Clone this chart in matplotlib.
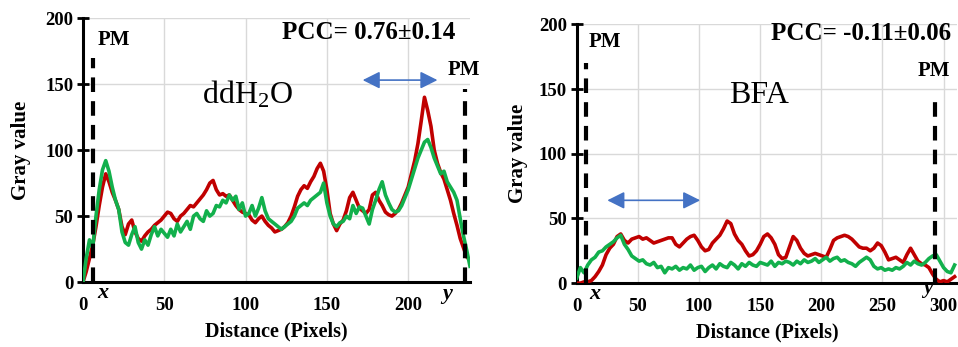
import numpy as np
import matplotlib
matplotlib.use("Agg")
import matplotlib.pyplot as plt

plt.rcParams['font.family'] = ['Liberation Serif', 'DejaVu Serif']
plt.rcParams['mathtext.fontset'] = 'custom'
plt.rcParams['mathtext.rm'] = 'Liberation Serif'
plt.rcParams['mathtext.it'] = 'Liberation Serif:italic'

# ---------------- data: ddH2O panel (step 2 px) ----------------
left_step = 2
left_red = [0, 8, 18, 28, 42, 58, 72, 82, 76, 68, 62, 55, 42, 36, 44, 47, 38, 33, 31, 35,
            38, 40, 43, 45, 47, 50, 53, 52, 48, 46, 50, 52, 55, 58, 57, 60, 63, 66, 70, 75,
            77, 70, 66, 67, 65, 66, 62, 58, 55, 53, 52, 51, 47, 45, 48, 50, 46, 43, 41, 38,
            39, 40, 42, 45, 50, 57, 65, 70, 73, 71, 76, 80, 86, 90, 84, 70, 52, 44, 39, 44,
            47, 54, 64, 68, 62, 56, 54, 52, 55, 66, 68, 62, 58, 53, 51, 50, 52, 55, 60, 66,
            72, 82, 92, 105, 122, 140, 130, 118, 100, 90, 83, 78, 70, 62, 52, 43, 33, 26, 19, 17]
left_green = [0, 18, 32, 26, 50, 70, 85, 92, 84, 72, 62, 55, 38, 30, 28, 36, 42, 30, 25, 32,
              28, 36, 42, 35, 40, 37, 34, 40, 35, 44, 38, 42, 46, 40, 50, 52, 48, 46, 54, 50,
              52, 58, 57, 62, 60, 66, 62, 65, 55, 60, 50, 52, 58, 50, 56, 64, 54, 48, 46, 44,
              42, 40, 42, 44, 46, 50, 56, 58, 60, 58, 62, 64, 66, 68, 75, 60, 50, 44, 42, 45,
              46, 50, 48, 58, 52, 57, 56, 50, 44, 55, 62, 70, 76, 66, 60, 55, 53, 54, 58, 64,
              70, 78, 86, 94, 100, 106, 108, 102, 94, 88, 82, 84, 76, 72, 68, 62, 48, 35, 24, 12]
left_x = np.arange(len(left_red)) * left_step

# ---------------- data: BFA panel (step 3 px) ----------------
right_step = 3
right_red = [0, 0, 1, 1, 2, 5, 9, 14, 22, 27, 30, 36, 38, 33, 31, 34, 35, 36, 34, 35,
             33, 31, 32, 33, 34, 35, 35, 30, 28, 31, 34, 36, 37, 33, 28, 25, 26, 31, 34, 37,
             42, 48, 46, 38, 33, 30, 25, 21, 22, 25, 30, 36, 38, 35, 30, 22, 19, 20, 28, 36,
             33, 27, 23, 21, 22, 23, 22, 21, 20, 26, 33, 35, 36, 37, 36, 34, 31, 28, 27, 27,
             25, 27, 31, 29, 24, 18, 19, 20, 18, 16, 22, 27, 22, 17, 15, 14, 12, 7, 3, 1,
             2, 1, 3, 5]
right_green = [4, 12, 8, 14, 18, 20, 24, 25, 28, 30, 32, 35, 37, 30, 26, 21, 19, 17, 18, 15,
               14, 16, 12, 13, 8, 12, 11, 13, 10, 12, 11, 14, 10, 12, 13, 9, 12, 14, 11, 15,
               13, 12, 16, 14, 11, 15, 13, 16, 14, 13, 16, 15, 14, 17, 13, 16, 15, 17, 16, 14,
               17, 15, 18, 16, 17, 19, 16, 18, 20, 17, 19, 20, 17, 18, 16, 15, 13, 16, 18, 20,
               18, 13, 11, 12, 10, 11, 10, 12, 11, 13, 16, 14, 17, 15, 14, 16, 19, 21, 22, 17,
               12, 9, 8, 14]
right_x = np.arange(len(right_red)) * right_step

x_ticks_left = [0, 50, 100, 150, 200]
x_ticks_right = [0, 50, 100, 150, 200, 250, 300]
y_ticks = [0, 50, 100, 150, 200]

RED = '#C00000'
GREEN = '#12B04C'
BLUE = '#4472C4'

fig = plt.figure(figsize=(9.58, 3.47), dpi=100)
axL = fig.add_axes([0.0866, 0.187, 0.404, 0.761])
axR = fig.add_axes([0.602, 0.184, 0.397, 0.746])


def style(ax, xmax, xticks, ylabelpad):
    ax.set_xlim(0, xmax)
    ax.set_ylim(0, 200)
    ax.set_xticks(xticks)
    ax.set_yticks(y_ticks)
    ax.grid(True, color='#D9D9D9', lw=1.0)
    ax.set_axisbelow(True)
    for s in ['top', 'right']:
        ax.spines[s].set_visible(False)
    for s in ['left', 'bottom']:
        ax.spines[s].set_linewidth(2.2)
        ax.spines[s].set_color('black')
    ax.tick_params(axis='y', direction='inout', length=8, width=2, labelsize=13.5, pad=3)
    ax.tick_params(axis='x', length=0, labelsize=13.5, pad=11)
    for lab in ax.get_xticklabels() + ax.get_yticklabels():
        lab.set_fontweight('bold')
    ax.set_xlabel('Distance (Pixels)', fontsize=14.5, fontweight='bold', labelpad=5)
    ax.set_ylabel('Gray value', fontsize=15, fontweight='bold', labelpad=ylabelpad)


# left panel
style(axL, 238, x_ticks_left, 10)
axL.plot(left_x, left_red, color=RED, lw=2.6, zorder=3)
axL.plot(left_x, left_green, color=GREEN, lw=2.6, zorder=4)
axL.plot([6, 6], [0, 170], color='black', lw=3, ls=(0, (3.5, 2.2)), zorder=5)
axL.plot([235, 235], [0, 146], color='black', lw=3, ls=(0, (3.5, 2.2)), zorder=5)
axL.text(19, 183, 'PM', fontsize=15, fontweight='bold', ha='center', va='center')
axL.text(234, 161, 'PM', fontsize=15, fontweight='bold', ha='center', va='center', clip_on=False)
axL.text(229, 189, 'PCC= 0.76±0.14', fontsize=18, fontweight='bold', ha='right', va='center')
axL.text(101, 142, r'ddH$_2$O', fontsize=23, ha='center', va='center')
axL.annotate('', xy=(218, 153), xytext=(172, 153),
             arrowprops=dict(arrowstyle='<|-|>', mutation_scale=26, lw=1.2, color=BLUE,
                             shrinkA=0, shrinkB=0))
axL.text(12, -8, 'x', fontsize=16, style='italic', fontweight='bold', ha='center', va='center', clip_on=False)
axL.text(224, -9, 'y', fontsize=16, style='italic', fontweight='bold', ha='center', va='center', clip_on=False)

# right panel
style(axR, 311, x_ticks_right, 8)
axR.plot(right_x, right_red, color=RED, lw=2.6, zorder=3)
axR.plot(right_x, right_green, color=GREEN, lw=2.6, zorder=4)
axR.plot([8, 8], [0, 170], color='black', lw=3, ls=(0, (3.5, 2.2)), zorder=5)
axR.plot([293, 293], [0, 147], color='black', lw=3, ls=(0, (3.5, 2.2)), zorder=5)
axR.text(23, 186, 'PM', fontsize=15, fontweight='bold', ha='center', va='center')
axR.text(292, 164, 'PM', fontsize=15, fontweight='bold', ha='center', va='center')
axR.text(306, 193, 'PCC= -0.11±0.06', fontsize=18, fontweight='bold', ha='right', va='center')
axR.text(149, 145, 'BFA', fontsize=23, ha='center', va='center')
axR.annotate('', xy=(101, 64), xytext=(25, 64),
             arrowprops=dict(arrowstyle='<|-|>', mutation_scale=26, lw=1.2, color=BLUE,
                             shrinkA=0, shrinkB=0))
axR.text(15, -8, 'x', fontsize=16, style='italic', fontweight='bold', ha='center', va='center', clip_on=False)
axR.text(287, -4, 'y', fontsize=15, style='italic', fontweight='bold', ha='center', va='center', clip_on=False)

fig.savefig('out.png', dpi=100)
